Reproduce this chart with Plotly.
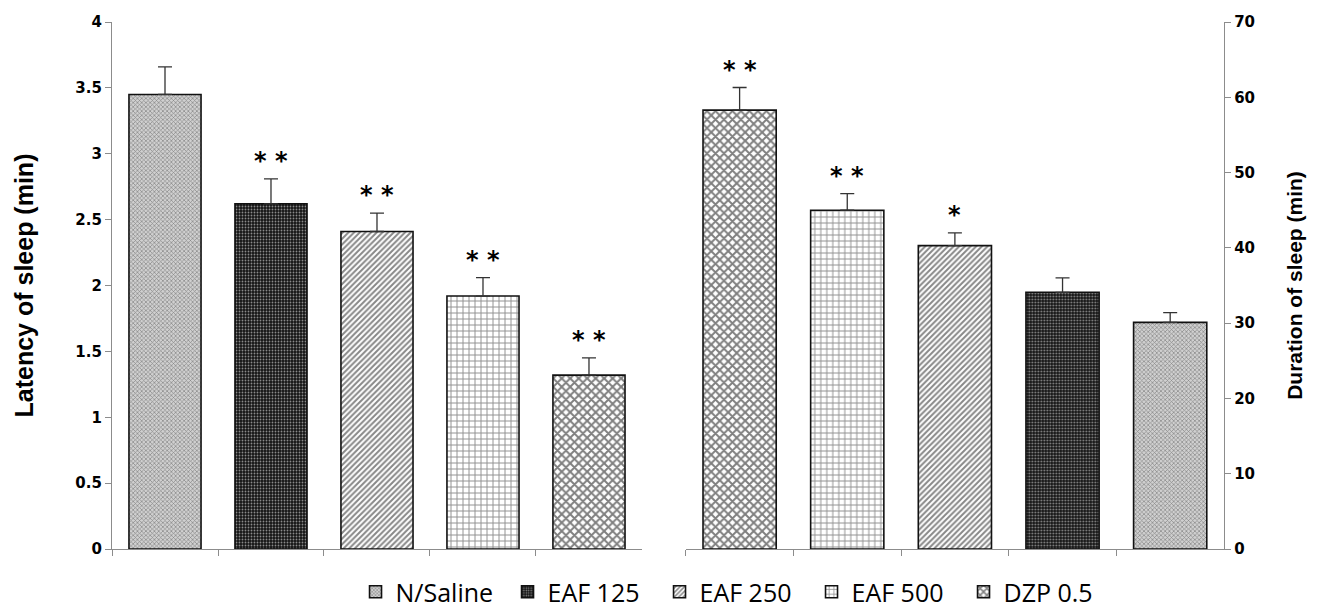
import plotly.graph_objects as go

groups = ["N/Saline", "EAF 125", "EAF 250", "EAF 500", "DZP 0.5"]

# Latency of sleep (min) - left panel
latency_order = ["N/Saline", "EAF 125", "EAF 250", "EAF 500", "DZP 0.5"]
latency_vals = [3.45, 2.62, 2.41, 1.92, 1.32]
latency_err = [0.21, 0.19, 0.14, 0.14, 0.13]
latency_sig = ["", "* *", "* *", "* *", "* *"]

# Duration of sleep (min) - right panel
duration_order = ["DZP 0.5", "EAF 500", "EAF 250", "EAF 125", "N/Saline"]
duration_vals = [58.3, 45.0, 40.3, 34.1, 30.1]
duration_err = [3.0, 2.2, 1.7, 1.9, 1.3]
duration_sig = ["* *", "* *", "*", "", ""]

patterns = {
    "N/Saline": dict(shape="x", fgcolor="#3a3a3a", bgcolor="#d0d0d0", size=3, solidity=0.4),
    "EAF 125": dict(shape=".", fgcolor="#ffffff", bgcolor="#151515", size=3, solidity=0.3),
    "EAF 250": dict(shape="/", fgcolor="#111111", bgcolor="#ffffff", size=4, solidity=0.5),
    "EAF 500": dict(shape="+", fgcolor="#222222", bgcolor="#ffffff", size=6, solidity=0.3),
    "DZP 0.5": dict(shape="x", fgcolor="#000000", bgcolor="#ffffff", size=6, solidity=0.55),
}

fig = go.Figure()

for i, g in enumerate(latency_order):
    fig.add_trace(go.Bar(
        x=[g], y=[latency_vals[i]], name=g, width=0.68,
        marker=dict(color="#ffffff", line=dict(color="#111111", width=1.6), pattern=patterns[g]),
        error_y=dict(type="data", array=[latency_err[i]], arrayminus=[0], symmetric=False,
                     color="#333333", thickness=1.3, width=7),
        xaxis="x", yaxis="y", showlegend=True,
    ))

for i, g in enumerate(duration_order):
    fig.add_trace(go.Bar(
        x=[g], y=[duration_vals[i]], name=g, width=0.68,
        marker=dict(color="#ffffff", line=dict(color="#111111", width=1.6), pattern=patterns[g]),
        error_y=dict(type="data", array=[duration_err[i]], arrayminus=[0], symmetric=False,
                     color="#333333", thickness=1.3, width=7),
        xaxis="x2", yaxis="y2", showlegend=False,
    ))

star_font = dict(family="DejaVu Sans", size=24, color="#000", weight="bold")
annotations = []
for i, g in enumerate(latency_order):
    if latency_sig[i]:
        annotations.append(dict(x=g, y=latency_vals[i] + latency_err[i], xref="x", yref="y",
                                text=latency_sig[i], showarrow=False, yanchor="bottom",
                                yshift=2, font=star_font))
for i, g in enumerate(duration_order):
    if duration_sig[i]:
        annotations.append(dict(x=g, y=duration_vals[i] + duration_err[i], xref="x2", yref="y2",
                                text=duration_sig[i], showarrow=False, yanchor="bottom",
                                yshift=2, font=star_font))

axis_gray = "#8c8c8c"
tickfont = dict(family="DejaVu Sans", size=15, color="#000", weight="bold")

fig.update_layout(
    width=1311, height=602,
    margin=dict(l=104, r=95, t=14, b=61, autoexpand=False),
    paper_bgcolor="white", plot_bgcolor="white",
    barmode="overlay",
    annotations=annotations,
    xaxis=dict(domain=[0, 0.4766], categoryorder="array", categoryarray=latency_order,
               showticklabels=False, tickson="boundaries", ticks="outside", ticklen=6,
               tickcolor=axis_gray, showline=True, linecolor=axis_gray, linewidth=1.3,
               showgrid=False, zeroline=False, anchor="y", automargin=False),
    yaxis=dict(range=[0, 4], dtick=0.5, ticks="outside", ticklen=6, tickcolor=axis_gray,
               showline=True, linecolor=axis_gray, linewidth=1.3, showgrid=False, zeroline=False,
               tickfont=tickfont, anchor="x", automargin=False,
               title=dict(text="Latency of sleep (min)", standoff=34,
                          font=dict(family="Liberation Sans", size=25, color="#000", weight="bold"))),
    xaxis2=dict(domain=[0.516, 1], categoryorder="array", categoryarray=duration_order,
                showticklabels=False, tickson="boundaries", ticks="outside", ticklen=6,
                tickcolor=axis_gray, showline=True, linecolor=axis_gray, linewidth=1.3,
                showgrid=False, zeroline=False, anchor="y2", automargin=False),
    yaxis2=dict(range=[0, 70], dtick=10, side="right", anchor="x2", ticks="outside", ticklen=6,
                tickcolor=axis_gray, showline=True, linecolor=axis_gray, linewidth=1.3,
                showgrid=False, zeroline=False, tickfont=tickfont, automargin=False,
                title=dict(text="Duration of sleep (min)", standoff=33,
                           font=dict(family="Liberation Sans", size=21, color="#000", weight="bold"))),
    legend=dict(orientation="h", x=0.219, y=-0.0816, xanchor="left", yanchor="middle",
                font=dict(family="Open Sans", size=25, color="#000"), itemwidth=30,
                entrywidth=107, entrywidthmode="pixels",
                traceorder="normal", bgcolor="rgba(0,0,0,0)"),
)

fig.write_html("out.html")
